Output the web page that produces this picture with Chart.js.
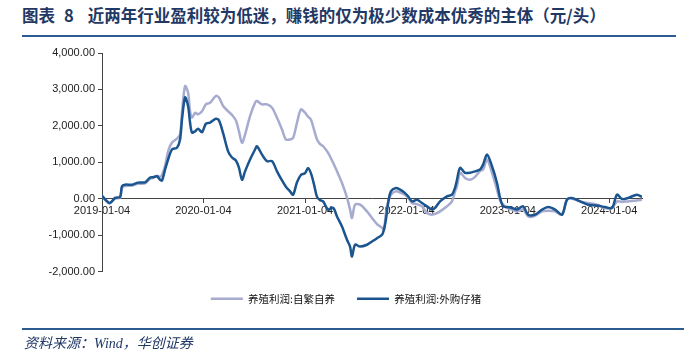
<!DOCTYPE html>
<html>
<head>
<meta charset="utf-8">
<script src="https://cdn.jsdelivr.net/npm/chart.js@4.4.0/dist/chart.umd.min.js"></script>
<style>
  body { margin:0; width:689px; height:360px; background:#fff; position:relative; overflow:hidden; font-family:"Noto Sans CJK SC", sans-serif; }
  #title { position:absolute; left:22px; top:3px; font-size:16.5px; font-weight:bold; color:#1f3864; white-space:nowrap; }
  #title .a { margin-right:9px; }
  #title .num { margin-right:14px; }
  #tline { position:absolute; left:22px; top:35px; width:654px; height:2px; background:#2b5b8f; }
  #bline { position:absolute; left:22px; top:328px; width:662px; height:2px; background:#2b5b8f; }
  #source { position:absolute; left:24px; top:332px; font-size:14px; font-style:italic; color:#1f3864; font-family:"Liberation Serif","Noto Sans CJK SC",serif; }
  #wrap { position:absolute; left:0; top:0; width:689px; height:360px; }
</style>
</head>
<body>
<div id="title"><span class="a">图表</span><span class="num">8</span>近两年行业盈利较为低迷，赚钱的仅为极少数成本优秀的主体（元/头）</div>
<div id="tline"></div>
<div id="wrap"><canvas id="grafico" width="689" height="360"></canvas></div>
<div id="bline"></div>
<div id="source">资料来源：Wind，华创证券</div>
<script>
// date e valori (元/头)
const dates = [
  '2019-01-04','2019-01-18','2019-02-01','2019-02-20','2019-03-10','2019-03-17','2019-03-28','2019-04-22','2019-05-14','2019-06-08',
  '2019-06-26','2019-07-07','2019-07-21','2019-08-01','2019-08-08','2019-08-19','2019-08-30','2019-09-13','2019-10-01','2019-10-12',
  '2019-10-19','2019-10-30','2019-11-10','2019-11-17','2019-11-24','2019-12-05','2019-12-16','2019-12-30',
  '2020-01-13','2020-01-28','2020-02-18','2020-02-29','2020-03-15','2020-04-02','2020-04-16','2020-04-30','2020-05-11','2020-05-22',
  '2020-06-02','2020-06-20','2020-07-08','2020-07-15','2020-08-02','2020-08-20','2020-09-07','2020-09-25','2020-10-13','2020-10-27',
  '2020-11-11','2020-11-22','2020-12-06','2020-12-20',
  '2021-01-04','2021-01-15','2021-01-25','2021-02-05','2021-02-16','2021-02-27','2021-03-10','2021-03-28','2021-04-15','2021-04-29',
  '2021-05-17','2021-06-04','2021-06-15','2021-06-22','2021-07-03','2021-07-21','2021-08-15','2021-09-02','2021-09-20','2021-10-08',
  '2021-10-15','2021-10-22','2021-10-30','2021-11-09','2021-11-27','2021-12-12','2021-12-26',
  '2022-01-10','2022-01-24','2022-02-11','2022-03-01','2022-03-19','2022-04-06','2022-04-17','2022-05-05','2022-05-30','2022-06-17',
  '2022-06-28','2022-07-05','2022-07-16','2022-08-03','2022-08-21','2022-09-08','2022-09-26','2022-10-07','2022-10-21','2022-11-08',
  '2022-11-26','2022-12-07','2022-12-18',
  '2023-01-01','2023-01-19','2023-02-06','2023-02-28','2023-03-18','2023-04-12','2023-05-07','2023-05-29','2023-06-23','2023-07-18',
  '2023-08-05','2023-08-23','2023-09-21','2023-10-20','2023-11-21','2023-12-20',
  '2024-01-14','2024-02-01','2024-02-19','2024-03-12','2024-04-13','2024-05-01'
];

// 养殖利润:自繁自养
const ziFanZiYang = [
  80,-60,-130,0,30,300,350,360,410,420,
  550,570,630,600,650,900,1300,1540,1650,1760,
  2370,3090,2910,2400,2220,2360,2315,2400,
  2590,2635,2820,2780,2545,2400,2300,2150,1850,1535,
  1760,2270,2635,2680,2590,2590,2500,2220,1900,1625,
  1625,1670,2085,2450,
  2360,2250,2175,1900,1625,1500,1440,1260,985,750,
  430,30,-300,-530,-165,-165,-350,-530,-700,-800,
  -855,-400,-100,110,200,170,120,
  40,-120,-150,-210,-395,-440,-420,-350,-210,-75,
  200,340,710,570,520,600,760,800,1075,710,
  250,-50,-165,
  -255,-300,-350,-300,-490,-470,-350,-330,-350,-440,
  -20,0,-75,-120,-165,-255,
  -255,-75,-90,-75,-50,-30
];

// 养殖利润:外购仔猪
const waiGouZaiZhu = [
  80,-40,-120,20,50,340,385,385,440,450,
  580,590,615,520,500,800,1075,1350,1400,1625,
  2175,2780,2540,2090,1815,1850,1920,1825,
  2060,2090,2195,2150,1800,1300,1130,1050,850,520,
  750,1075,1350,1440,1210,1030,1030,750,500,330,
  200,110,450,650,
  700,845,700,400,50,-40,-75,-300,-250,-490,
  -765,-1130,-1315,-1590,-1265,-1315,-1265,-1175,-1085,-990,
  -850,-580,-120,200,295,250,180,
  65,-75,-30,-120,-210,-300,-255,-75,65,110,
  300,520,845,710,710,750,800,935,1210,890,
  430,20,-210,
  -230,-255,-300,-210,-440,-440,-300,-230,-300,-440,
  -30,20,-75,-165,-190,-230,
  -255,110,-10,20,110,45
];

const xTickLabels = ['2019-01-04','2020-01-04','2021-01-04','2022-01-04','2023-01-04','2024-01-04'];
const xEnd = '2024-05-01';

const t0 = Date.UTC(2019, 0, 4);
function dayOf(s) {
  const [y, m, d] = s.split('-').map(Number);
  return (Date.UTC(y, m - 1, d) - t0) / 86400000;
}
const toPoints = vals => dates.map((d, i) => ({ x: dayOf(d), y: vals[i] }));

// sposta la legenda un po' a destra, come nell'originale
const legendShift = {
  id: 'legendShift',
  afterLayout(chart) {
    if (chart.legend) { chart.legend.left += 25; chart.legend.right += 25; }
  }
};

const ctx = document.getElementById('grafico').getContext('2d');
new Chart(ctx, {
  type: 'line',
  data: {
    datasets: [
      { label: '养殖利润:外购仔猪', data: toPoints(waiGouZaiZhu), borderColor: '#1a5590', borderWidth: 2.5, pointRadius: 0, tension: 0.3 },
      { label: '养殖利润:自繁自养', data: toPoints(ziFanZiYang), borderColor: '#a6abcf', borderWidth: 2.5, pointRadius: 0, tension: 0.3 }
    ]
  },
  options: {
    responsive: false,
    animation: false,
    layout: { padding: { top: 53, right: 47, bottom: 46, left: 0 } },
    plugins: {
      tooltip: { enabled: false },
      legend: {
        position: 'bottom',
        reverse: true,
        labels: {
          usePointStyle: true, pointStyle: 'line', pointStyleWidth: 32,
          color: '#111', padding: 22,
          font: { family: '"Noto Sans CJK SC", sans-serif', size: 10.5 }
        }
      }
    },
    scales: {
      x: {
        type: 'linear',
        position: { y: 0 },
        min: 0, max: dayOf(xEnd),
        afterBuildTicks: s => { s.ticks = xTickLabels.map(l => ({ value: dayOf(l) })); },
        ticks: {
          autoSkip: false, maxRotation: 0, padding: 2,
          color: '#222', font: { family: '"Liberation Sans", Arial', size: 11 },
          callback: (v, i) => xTickLabels[i]
        },
        grid: { drawOnChartArea: false, tickLength: 4, color: '#444' },
        border: { color: '#444', width: 1 }
      },
      y: {
        min: -2000, max: 4000,
        afterFit: s => { s.width = 102; },
        ticks: {
          stepSize: 1000, padding: 3,
          color: '#222', font: { family: '"Liberation Sans", Arial', size: 11 },
          callback: v => v.toLocaleString('en-US', { minimumFractionDigits: 2, maximumFractionDigits: 2 })
        },
        grid: { drawOnChartArea: false, tickLength: 4, color: '#444' },
        border: { color: '#444', width: 1 }
      }
    }
  },
  plugins: [legendShift]
});
</script>
</body>
</html>
